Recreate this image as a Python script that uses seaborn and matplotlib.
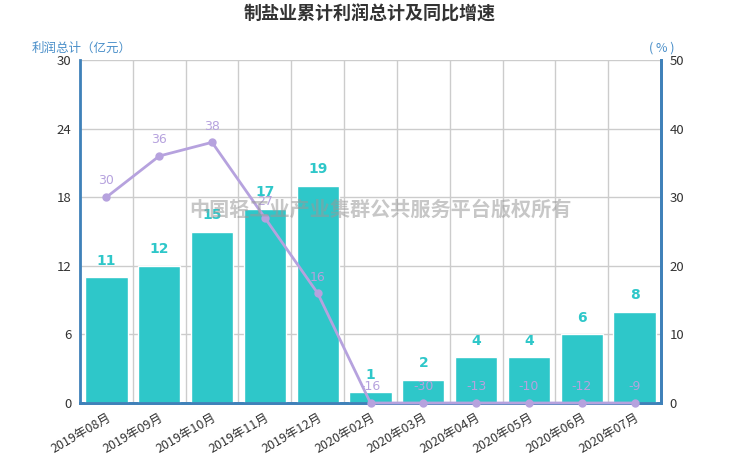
import numpy as np
import pandas as pd
import matplotlib
matplotlib.use("Agg")
import matplotlib.pyplot as plt
import seaborn as sns

months = ["2019年08月", "2019年09月", "2019年10月", "2019年11月", "2019年12月",
          "2020年02月", "2020年03月", "2020年04月", "2020年05月", "2020年06月", "2020年07月"]
profit = [11, 12, 15, 17, 19, 1, 2, 4, 4, 6, 8]
growth = [30, 36, 38, 27, 16, -16, -30, -13, -10, -12, -9]

left_ticks = [0, 6, 12, 18, 24, 30]
right_ticks = [0, 10, 20, 30, 40, 50]

sns.set_theme(style="white")
plt.rcParams['font.family'] = ['Noto Sans CJK SC', 'DejaVu Sans']
plt.rcParams['axes.unicode_minus'] = False

BAR = "#2ec7c9"
LINE = "#b6a2de"
AXIS = "#3f81b9"
AXLBL = "#4a8fc9"
GRID = "#cccccc"
TXT = "#333333"

df = pd.DataFrame({"month": months, "profit": profit, "growth": growth})
# values below the right axis minimum are shown on the axis floor
df["growth_shown"] = df["growth"].clip(lower=right_ticks[0])

fig = plt.figure(figsize=(7.4, 4.62), dpi=100)
ax = fig.add_axes([80/740, 59/462, 581/740, 343/462])

sns.barplot(data=df, x="month", y="profit", color=BAR, width=0.8, saturation=1,
            ax=ax, zorder=3)
n = len(months)
ax.set_xlim(-0.5, n - 0.5)
ax.set_ylim(left_ticks[0], left_ticks[-1])
ax.set_yticks(left_ticks)
ax.set_xlabel("")
ax.set_ylabel("")

# grid
ax.set_xticks(np.arange(n))
ax.set_xticks(np.arange(n + 1) - 0.5, minor=True)
ax.grid(True, which="minor", axis="x", color=GRID, linewidth=1, zorder=0)
ax.grid(True, which="major", axis="y", color=GRID, linewidth=1, zorder=0)
ax.set_axisbelow(True)
ax.tick_params(axis="x", which="major", length=0, labelsize=9, colors=TXT, pad=6)
ax.tick_params(axis="x", which="minor", length=4, width=1, color=TXT, direction="out")
ax.tick_params(axis="y", length=0, labelsize=9.5, colors=TXT, pad=6)
for lbl in ax.get_xticklabels():
    lbl.set_rotation(30)
    lbl.set_ha("right")
    lbl.set_rotation_mode("anchor")

for side in ["top"]:
    ax.spines[side].set_visible(False)
for side in ["left", "bottom", "right"]:
    ax.spines[side].set_color(AXIS)
    ax.spines[side].set_linewidth(2)

# bar labels
for i, v in enumerate(profit):
    ax.annotate(f"{v}", (i, v), xytext=(0, 7), textcoords="offset points",
                ha="center", va="bottom", color=BAR, fontsize=10, fontweight="bold",
                family="DejaVu Sans", zorder=6)

ax2 = ax.twinx()
sns.pointplot(data=df, x="month", y="growth_shown", color=LINE, ax=ax2,
              markers="o", markersize=4.5, linewidth=2, zorder=5)
for art in ax2.lines:
    art.set_clip_on(False)
ax2.set_xlim(-0.5, n - 0.5)
ax2.set_ylim(right_ticks[0], right_ticks[-1])
ax2.set_yticks(right_ticks)
ax2.set_ylabel("")
ax2.set_xlabel("")
ax2.tick_params(axis="y", length=0, labelsize=9.5, colors=TXT, pad=6)
ax2.tick_params(axis="x", which="both", length=0, labelbottom=False)
ax2.grid(False)
for side in ["top", "left"]:
    ax2.spines[side].set_visible(False)
ax2.spines["right"].set_color(AXIS)
ax2.spines["right"].set_linewidth(2)
ax2.spines["bottom"].set_color(AXIS)
ax2.spines["bottom"].set_linewidth(2)

for i, (g, gs) in enumerate(zip(growth, df["growth_shown"])):
    ax2.annotate(f"{g}", (i, gs), xytext=(0, 7), textcoords="offset points",
                 ha="center", va="bottom", color=LINE, fontsize=9,
                 family="DejaVu Sans", zorder=7)

# titles
fig.text(0.5, 1 - 14/462, "制盐业累计利润总计及同比增速", ha="center", va="center",
         fontsize=13, fontweight="bold", color=TXT)
fig.text(32/740, 1 - 48/462, "利润总计（亿元）", ha="left", va="center",
         fontsize=9, color=AXLBL)
fig.text(662/740, 1 - 48/462, "( % )", ha="center", va="center",
         fontsize=9, color=AXLBL)

# watermark
fig.text(380/740, 1 - 209/462, "中国轻工业产业集群公共服务平台版权所有", ha="center",
         va="center", fontsize=14.5, fontweight="bold", color="#999999", alpha=0.55,
         zorder=10)

fig.savefig("out.png", dpi=100)
